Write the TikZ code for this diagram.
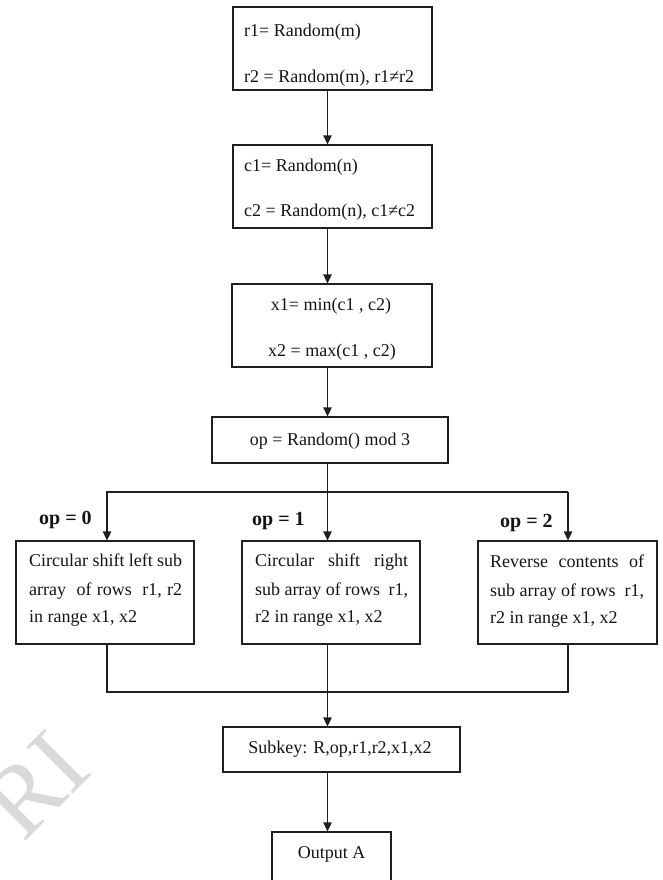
\documentclass[tikz,border=0pt]{standalone}
\usepackage{fontspec}
\setmainfont{Liberation Serif}
\usetikzlibrary{arrows.meta}

\begin{document}
\begin{tikzpicture}[x=1pt,y=-1pt,
  box/.style={draw=black!88, line width=1.3pt, inner sep=0pt, fill=none},
  wire/.style={draw=black!88, line width=1.3pt},
  arr/.style={wire, -{Triangle[length=9pt,width=8.5pt]}},
  txt/.style={font=\fontsize{18}{18}\selectfont, inner sep=0pt, text=black!92},
  lbl/.style={font=\fontsize{20}{20}\selectfont\bfseries, inner sep=0pt, anchor=base west, text=black!92},
  wm/.style={font=\fontsize{100}{100}\selectfont, text=black!15, inner sep=0pt}]

\useasboundingbox (0,0) rectangle (662,880);

% faint watermark letters
\node[wm, rotate=45] (wmark) at (36,785) {RI};

% guide coordinates for the vertical spine and the branch rails
\coordinate (spine) at (327.5,0);
\coordinate (lx) at (107,0);
\coordinate (rx) at (568,0);
\coordinate (top) at (0,492);
\coordinate (bot) at (0,692);

% boxes
\node[box, minimum width=199pt, minimum height=83pt] (b1) at (332.5,48.5) {};
\node[box, minimum width=199pt, minimum height=83pt] (b2) at (332.5,186.5) {};
\node[box, minimum width=200pt, minimum height=83pt] (b3) at (332,325.5) {};
\node[box, minimum width=236pt, minimum height=46pt] (b4) at (330,440) {};
\node[box, minimum width=178pt, minimum height=103pt] (cl) at (105,592.5) {};
\node[box, minimum width=178pt, minimum height=103pt] (cm) at (331,592.5) {};
\node[box, minimum width=179pt, minimum height=103pt] (cr) at (567.5,592.5) {};
\node[box, minimum width=237pt, minimum height=45pt] (sk) at (341.5,749.5) {};
\node[box, minimum width=119pt, minimum height=70pt] (out) at (331.5,867) {};

% box texts
\node[txt, anchor=base west] (t1a) at (244,36.7) {r1= Random(m)};
\node[txt, anchor=base west] (t1b) at (244,83) {r2 = Random(m), r1≠r2};
\node[txt, anchor=base west] (t2a) at (244,171.7) {c1= Random(n)};
\node[txt, anchor=base west] (t2b) at (244,216) {c2 = Random(n), c1≠c2};
\node[txt, anchor=base] (t3a) at (331,310.7) {x1= min(c1 , c2)};
\node[txt, anchor=base] (t3b) at (332,356) {x2 = max(c1 , c2)};
\node[txt, anchor=base] (t4) at (330,445.7) {op = Random() mod 3};

\node[txt, anchor=base west] (la) at (29,566) {\makebox[153pt][s]{Circular shift left sub}};
\node[txt, anchor=base west] (lb) at (29,595) {\makebox[153pt][s]{array~ of rows~ r1, r2}};
\node[txt, anchor=base west] (lc) at (29,622) {in range x1, x2};

\node[txt, anchor=base west] (ma) at (255,566) {\makebox[153pt][s]{Circular shift right}};
\node[txt, anchor=base west] (mb) at (255,595) {\makebox[153pt][s]{sub array of rows~ r1,}};
\node[txt, anchor=base west] (mc) at (255,622) {r2 in range x1, x2};

\node[txt, anchor=base west] (ra) at (490,567) {\makebox[154pt][s]{Reverse contents of}};
\node[txt, anchor=base west] (rb) at (490,596) {\makebox[154pt][s]{sub array of rows~ r1,}};
\node[txt, anchor=base west] (rc) at (490,623) {r2 in range x1, x2};

\node[txt, anchor=base] (tsk) at (340,753) {Subkey: R,op,r1,r2,x1,x2};
\node[txt, anchor=base] (tout) at (331.5,858) {Output A};

% branch labels
\node[lbl] (op0) at (39,524) {op = 0};
\node[lbl] (op1) at (252,525) {op = 1};
\node[lbl] (op2) at (500,527) {op = 2};

% connectors
\draw[arr] (b1.south -| spine) -- (b2.north -| spine);
\draw[arr] (b2.south -| spine) -- (b3.north -| spine);
\draw[arr] (b3.south -| spine) -- (b4.north -| spine);
\draw[arr] (b4.south -| spine) -- (cm.north -| spine);
\draw[arr] (rx |- top) -- (lx |- top) -- (cl.north -| lx);
\draw[arr] (rx |- top) -- (cr.north -| rx);
\draw[wire] (cl.south -| lx) -- (lx |- bot) -- (rx |- bot) -- (cr.south -| rx);
\draw[arr] (cm.south -| spine) -- (sk.north -| spine);
\draw[arr] (sk.south -| spine) -- (out.north -| spine);

\end{tikzpicture}
\end{document}
